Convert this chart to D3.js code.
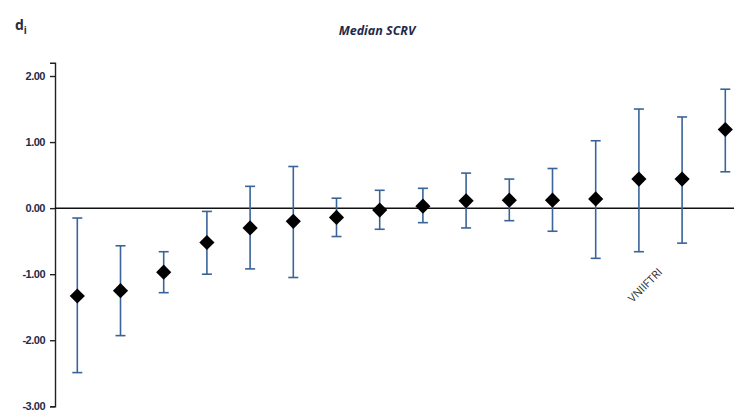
<!DOCTYPE html>
<html>
<head>
<meta charset="utf-8">
<script src="https://d3js.org/d3.v7.min.js"></script>
<style>
  body { margin: 0; background: #fff; }
  svg { display: block; font-family: "Open Sans", "DejaVu Sans", sans-serif; }
</style>
</head>
<body>
<svg id="chart"></svg>
<script>
// labs in order of median value (only one is labelled on the chart)
const labs = ["L1","L2","L3","L4","L5","L6","L7","L8","L9","L10","L11","L12","L13","VNIIFTRI","L15","L16"];
const di    = [-1.33, -1.25, -0.97, -0.52, -0.30, -0.20, -0.14, -0.03, 0.03, 0.11, 0.12, 0.12, 0.14, 0.44, 0.44, 1.19];
const upper = [-0.15, -0.57, -0.66, -0.05, 0.33, 0.63, 0.15, 0.27, 0.30, 0.53, 0.44, 0.60, 1.02, 1.50, 1.38, 1.80];
const lower = [-2.49, -1.93, -1.28, -1.00, -0.92, -1.05, -0.43, -0.32, -0.22, -0.30, -0.19, -0.35, -0.76, -0.66, -0.53, 0.55];
const yTicks = [-3, -2, -1, 0, 1, 2];
const shownLabel = "VNIIFTRI";

const width = 734, height = 412;
const svg = d3.select("#chart").attr("width", width).attr("height", height);

const x = d3.scaleBand()
            .domain(labs)
            .range([55.7, 55.7 + 16 * 43.2]);

const y = d3.scaleLinear()
            .domain([-3, 2.2])
            .range([406.3, 62.8]);

const barColor = "#3a6499";

// y axis (hyphen minus like the original)
const yAxis = svg.append("g")
   .attr("transform", "translate(55,0)")
   .call(d3.axisLeft(y).tickValues(yTicks).tickSize(5)
           .tickFormat(d => d.toFixed(2)));
yAxis.select(".domain").attr("stroke", "#222").attr("stroke-width", 1.4);
yAxis.selectAll(".tick line").attr("stroke", "#222").attr("stroke-width", 1.4);
yAxis.selectAll(".tick text")
     .attr("x", -10)
     .attr("fill", "#1e2a4a")
     .style("font-size", "11px")
     .style("font-weight", "bold")
     .style("letter-spacing", "-0.5px");

// zero line
svg.append("line")
   .attr("x1", 55).attr("x2", width)
   .attr("y1", y(0)).attr("y2", y(0))
   .attr("stroke", "#111").attr("stroke-width", 1.5);

// error bars
const bars = svg.append("g").selectAll("g")
   .data(labs)
   .enter()
   .append("g")
   .attr("stroke", barColor)
   .attr("stroke-width", 1.6);

bars.append("line")
    .attr("x1", d => x(d) + x.bandwidth() / 2)
    .attr("x2", d => x(d) + x.bandwidth() / 2)
    .attr("y1", (d, i) => y(upper[i]))
    .attr("y2", (d, i) => y(lower[i]));

bars.append("line")
    .attr("x1", d => x(d) + x.bandwidth() / 2 - 5)
    .attr("x2", d => x(d) + x.bandwidth() / 2 + 5)
    .attr("y1", (d, i) => y(upper[i]))
    .attr("y2", (d, i) => y(upper[i]));

bars.append("line")
    .attr("x1", d => x(d) + x.bandwidth() / 2 - 5)
    .attr("x2", d => x(d) + x.bandwidth() / 2 + 5)
    .attr("y1", (d, i) => y(lower[i]))
    .attr("y2", (d, i) => y(lower[i]));

// diamonds
const diamond = d3.symbol().type(d3.symbolSquare).size(115);
svg.append("g").selectAll("path")
   .data(labs)
   .enter()
   .append("path")
   .attr("d", diamond)
   .attr("fill", "#000")
   .attr("transform", (d, i) => `translate(${x(d) + x.bandwidth() / 2},${y(di[i])}) rotate(45)`);

// lab label
const lx = x(shownLabel) + x.bandwidth() / 2;
svg.append("text")
   .attr("transform", `translate(${lx + 24},${y(-0.98)}) rotate(-45)`)
   .attr("text-anchor", "end")
   .attr("fill", "#333")
   .style("font-size", "11px")
   .text(shownLabel);

// title
svg.append("text")
   .attr("x", 377).attr("y", 35)
   .attr("text-anchor", "middle")
   .attr("fill", "#1e2a4a")
   .style("font-size", "12.5px")
   .style("font-weight", "bold")
   .style("font-style", "italic")
   .text("Median SCRV");

// axis name
const dLabel = svg.append("text")
   .attr("x", 15).attr("y", 30)
   .attr("fill", "#2a2a3a")
   .style("font-size", "14px")
   .style("font-weight", "bold");
dLabel.append("tspan").text("d");
dLabel.append("tspan").attr("dy", 4).style("font-size", "10px").text("i");
</script>
</body>
</html>
